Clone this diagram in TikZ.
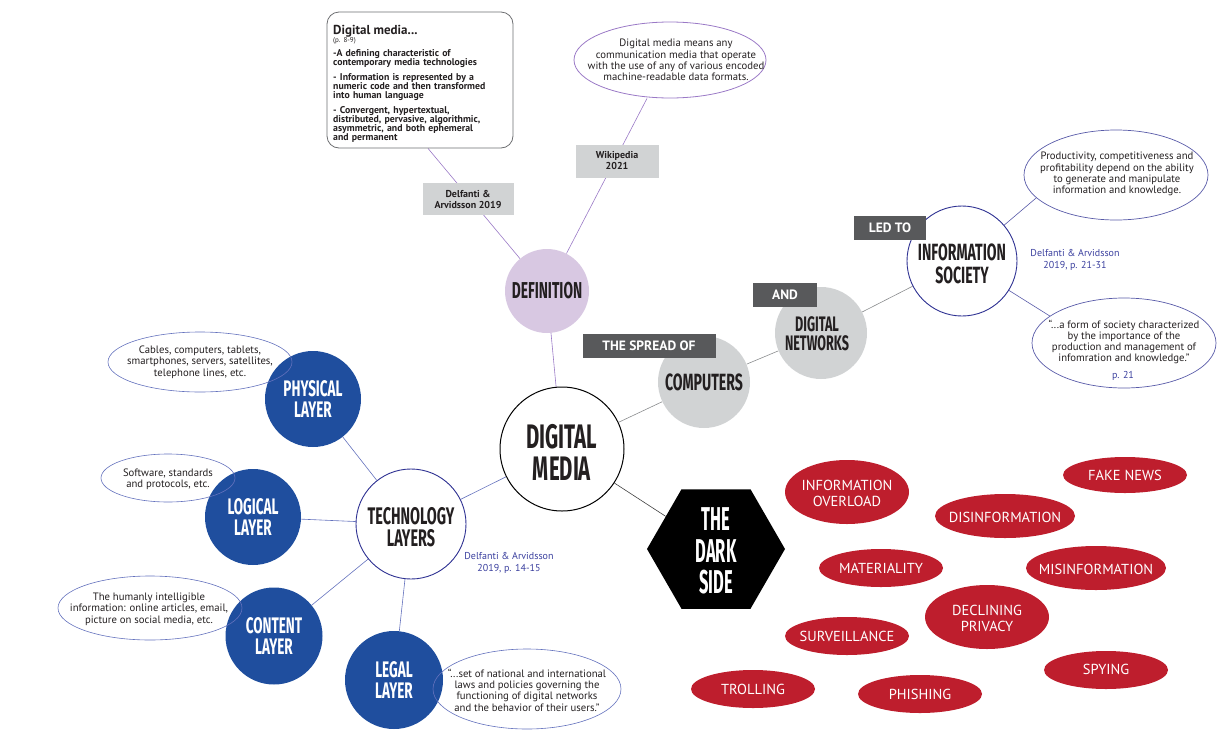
\documentclass[tikz,border=0pt]{standalone}
\usepackage{fontspec}
\setmainfont{PT Sans}
\newfontfamily\tfont[FakeStretch=0.6]{Fira Sans}
\newfontfamily\dfont[FakeStretch=0.5]{Fira Sans}
\usetikzlibrary{shapes.geometric,backgrounds}
\definecolor{ink}{HTML}{231F20}
\definecolor{layerblue}{HTML}{1F4E9E}
\definecolor{indigo}{HTML}{2E3192}
\definecolor{bline}{HTML}{6472BD}
\definecolor{purp}{HTML}{9A79C6}
\definecolor{lav}{HTML}{D8C8E2}
\definecolor{lgray}{HTML}{D1D3D4}
\definecolor{dgray}{HTML}{58595B}
\definecolor{dred}{HTML}{BE1E2D}
\definecolor{cite}{HTML}{3A3F9E}
\definecolor{gline}{HTML}{8A8C8E}
\definecolor{boxline}{HTML}{6D6E71}
\tikzset{
  ttl/.style={align=center, inner sep=0pt, text=ink},
  bigcirc/.style={circle, inner sep=0pt, align=center},
  blueball/.style={circle, fill=layerblue, inner sep=0pt, align=center, text=white,
     font=\tfont\bfseries\fontsize{22.5}{21}\selectfont},
  lbox/.style={fill=lgray, inner sep=0pt, align=center, text=ink,
     font=\bfseries\fontsize{10}{11}\selectfont},
  dbox/.style={fill=dgray, inner sep=0pt, align=center, text=white,
     font=\bfseries\fontsize{13.5}{15}\selectfont, minimum height=24pt},
  txtell/.style={ellipse, draw=bline, line width=0.6pt, inner sep=0pt},
  infoell/.style={ellipse, draw=indigo!80, line width=0.7pt, inner sep=0pt},
  body/.style={align=center, inner sep=0pt, text=ink, font=\fontsize{10.7}{11.3}\selectfont},
  redell/.style={ellipse, fill=dred, inner sep=0pt},
  redtxt/.style={align=center, inner sep=0pt, text=white, font=\fontsize{14.5}{16}\selectfont},
  citetxt/.style={align=center, inner sep=0pt, text=cite, font=\fontsize{10}{12}\selectfont},
  conn/.style={line width=0.6pt},
}
\begin{document}
\begin{tikzpicture}[x=1pt,y=-1pt]
\useasboundingbox (0,0) rectangle (1219,745);

% ---------- main circles ----------
\node[bigcirc, draw=black, line width=1pt, minimum size=124pt] (dm) at (562,449) {};
\node[ttl, font=\tfont\bfseries\fontsize{34}{32}\selectfont] (dmt) at (562,452) {DIGITAL\\MEDIA};

\node[bigcirc, fill=lav, minimum size=84pt, font=\tfont\bfseries\fontsize{23}{22}\selectfont, text=ink] (def) at (547,291) {DEFINITION};

\node[bigcirc, fill=lgray, minimum size=92pt, font=\tfont\bfseries\fontsize{23.5}{22}\selectfont, text=ink] (comp) at (704,382) {COMPUTERS};
\node[bigcirc, fill=lgray, minimum size=92pt] (net) at (821,333) {};
\node[ttl, font=\tfont\bfseries\fontsize{21}{19}\selectfont] (nett) at (817,334) {DIGITAL\\NETWORKS};

\node[bigcirc, fill=white, draw=indigo, line width=0.9pt, minimum size=110pt] (info) at (962,261) {};
\node[ttl, font=\tfont\bfseries\fontsize{23.5}{22.5}\selectfont] (infot) at (962,264) {INFORMATION\\SOCIETY};

\node[bigcirc, fill=white, draw=indigo, line width=0.9pt, minimum size=110pt] (tech) at (411,524) {};
\node[ttl, font=\tfont\bfseries\fontsize{24}{22.5}\selectfont] (techt) at (411,527) {TECHNOLOGY\\LAYERS};

\node[blueball, minimum size=96pt] (phys) at (313,399) {PHYSICAL\\LAYER};
\node[blueball, minimum size=96pt] (logi) at (253,517) {LOGICAL\\LAYER};
\node[blueball, minimum size=97pt] (cont) at (274,636) {CONTENT\\LAYER};
\node[blueball, minimum size=98pt] (legal) at (394,680) {LEGAL\\LAYER};

\node[regular polygon, regular polygon sides=6, fill=black, minimum size=138pt, inner sep=0pt] (dark) at (716,549) {};
\node[ttl, text=white, font=\dfont\bfseries\fontsize{33}{31.5}\selectfont] (darkt) at (716,551) {THE\\DARK\\SIDE};

% ---------- top-left box ----------
\node[draw=boxline, line width=0.8pt, rounded corners=12pt, minimum width=186pt, minimum height=136pt, inner sep=0pt] (topbox) at (420,80) {};
\node[anchor=north west, inner sep=0pt, text width=180pt, align=left, text=ink,
      font=\bfseries\fontsize{9.8}{9.1}\selectfont] (topt) at (333,25) {%
{\fontsize{13}{14}\selectfont Digital media...\par}
{\mdseries\fontsize{7}{8}\selectfont (p.~8-9)\par}
\vspace{5pt}
-A defining characteristic of\\contemporary media technologies\par
\vspace{6pt}
- Information is represented by a\\numeric code and then transformed\\into human language\par
\vspace{5pt}
- Convergent, hypertextual,\\distributed, pervasive, algorithmic,\\asymmetric, and both ephemeral\\and permanent\par};

% ---------- text ellipses ----------
\node[ellipse, draw=purp, line width=0.8pt, minimum width=192pt, minimum height=76pt, inner sep=0pt] (wiki) at (670,60) {};
\node[body] (wikit) at (676,60) {Digital media means any\\communication media that operate\\with the use of any of various encoded\\machine-readable data formats.};

\node[infoell, minimum width=184pt, minimum height=90pt] (prod) at (1116,175) {};
\node[body] (prodt) at (1117,174) {Productivity, competitiveness and\\profitability depend on the ability\\to generate and manipulate\\information and knowledge.};

\node[infoell, minimum width=184pt, minimum height=90pt] (quote) at (1124,343) {};
\node[body] (quotet) at (1124,342) {``...a form of society characterized\\by the importance of the\\production and management of\\infomration and knowledge.''};
\node[citetxt] (p21) at (1123,376) {p. 21};

\node[txtell, minimum width=184pt, minimum height=60pt] (cab) at (200,362) {};
\node[body] (cabt) at (200,362) {Cables, computers, tablets,\\smartphones, servers, satellites,\\telephone lines, etc.};

\node[txtell, minimum width=134pt, minimum height=48pt] (soft) at (168,478) {};
\node[body] (softt) at (168,479) {Software, standards\\and protocols, etc.};

\node[txtell, minimum width=184pt, minimum height=64pt] (hum) at (150,608) {};
\node[body] (humt) at (149,609) {The humanly intelligible\\information: online articles, email,\\picture on social media, etc.};

\node[txtell, minimum width=188pt, minimum height=80pt] (legq) at (527,689) {};
\node[body] (legqt) at (527,690) {``...set of national and international\\laws and policies governing the\\functioning of digital networks\\and the behavior of their users.''};

% ---------- citations ----------
\node[citetxt] (cite1) at (1075,260) {Delfanti \& Arvidsson\\2019, p. 21-31};
\node[citetxt] (cite2) at (509,563) {Delfanti \& Arvidsson\\2019, p. 14-15};

% ---------- connectors ----------
\begin{scope}[on background layer]
\draw[conn, draw=purp] (dm) -- (def);
\draw[conn, draw=purp] (def) -- ([xshift=8pt]topbox.south);
\draw[conn, draw=purp] (def) -- ([xshift=-23pt]wiki.south);
\draw[conn, draw=gline] (dm) -- (comp);
\draw[conn, draw=gline] (comp) -- (net);
\draw[conn, draw=gline] (net) -- (info);
\draw[conn, draw=indigo!80] (info) -- (prod.196);
\draw[conn, draw=indigo!80] (info) -- (quote.160);
\draw[conn, draw=black!75] (dm) -- (dark);
\draw[conn, draw=bline] (dm) -- (tech);
\draw[conn, draw=bline] (tech) -- (phys);
\draw[conn, draw=bline] (tech) -- (logi);
\draw[conn, draw=bline] (tech) -- (cont);
\draw[conn, draw=bline] (tech) -- (legal);
\end{scope}

% ---------- label boxes ----------
\node[lbox, minimum width=91pt, minimum height=32pt] (dlab) at (468,199) {Delfanti \&\\Arvidsson 2019};
\node[lbox, minimum width=83pt, minimum height=33pt] (wlab) at (617,161) {Wikipedia\\2021};
\node[dbox, minimum width=133pt] (spread) at (649,346) {THE SPREAD OF};
\node[dbox, minimum width=64pt] (andl) at (785,295) {AND};
\node[dbox, minimum width=72pt] (ledto) at (890,228) {LED TO};

% ---------- dark side items ----------
\node[redell, minimum width=124pt, minimum height=64pt] (ovE) at (847,492) {};
\node[redtxt] (ov) at (847,493) {INFORMATION\\OVERLOAD};
\node[redell, minimum width=124pt, minimum height=36pt] (fakeE) at (1125,475) {};
\node[redtxt] (fake) at (1125,475) {FAKE NEWS};
\node[redell, minimum width=140pt, minimum height=44pt] (disE) at (1005,516) {};
\node[redtxt] (dis) at (1005,517) {DISINFORMATION};
\node[redell, minimum width=124pt, minimum height=38pt] (matE) at (881,568) {};
\node[redtxt] (mat) at (881,568) {MATERIALITY};
\node[redell, minimum width=140pt, minimum height=44pt] (misE) at (1096,568) {};
\node[redtxt] (mis) at (1096,569) {MISINFORMATION};
\node[redell, minimum width=124pt, minimum height=64pt] (decE) at (987,617) {};
\node[redtxt] (dec) at (987,618) {DECLINING\\PRIVACY};
\node[redell, minimum width=124pt, minimum height=38pt] (survE) at (847,636) {};
\node[redtxt] (surv) at (847,636) {SURVEILLANCE};
\node[redell, minimum width=124pt, minimum height=38pt] (spyE) at (1106,670) {};
\node[redtxt] (spy) at (1106,669) {SPYING};
\node[redell, minimum width=124pt, minimum height=38pt] (trollE) at (753,689) {};
\node[redtxt] (troll) at (753,689) {TROLLING};
\node[redell, minimum width=124pt, minimum height=38pt] (phishE) at (920,694) {};
\node[redtxt] (phish) at (920,694) {PHISHING};
\end{tikzpicture}
\end{document}
